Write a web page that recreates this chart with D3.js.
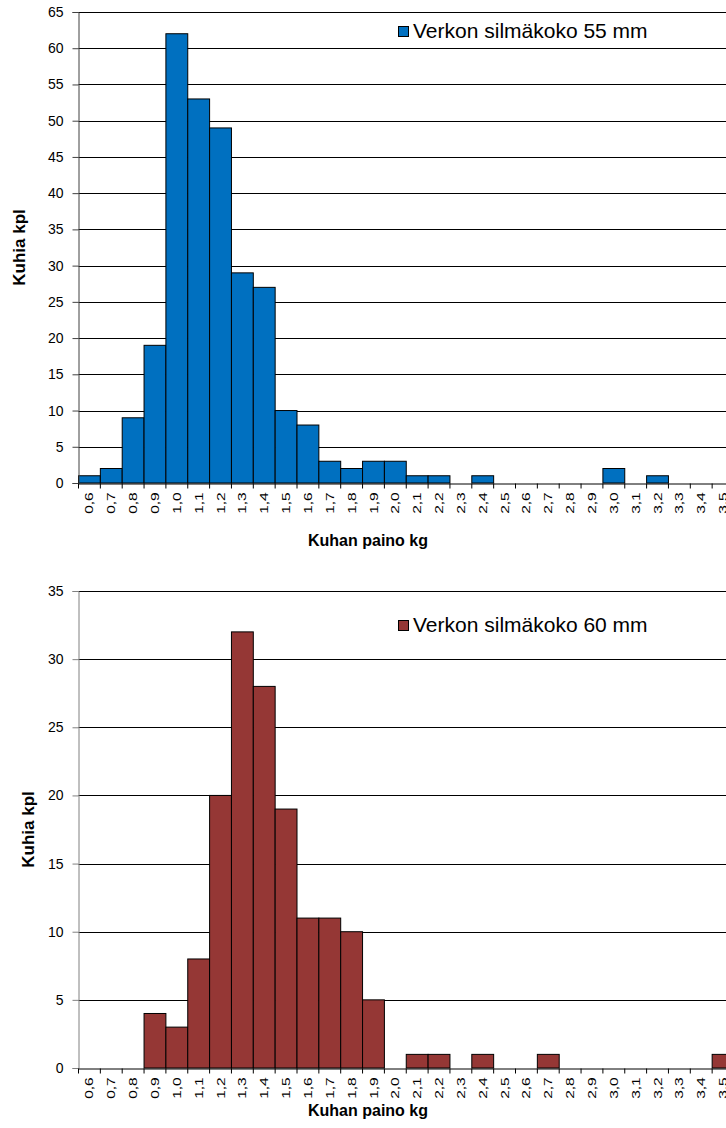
<!DOCTYPE html>
<html>
<head>
<meta charset="utf-8">
<script src="https://cdn.jsdelivr.net/npm/d3@7"></script>
<style>
  html, body { margin: 0; padding: 0; background: #fff; overflow: hidden; }
  svg { display: block; font-family: "Liberation Sans", Arial, sans-serif; }
</style>
</head>
<body>
<div id="chart"></div>
<script>
const categories = ["0,6", "0,7", "0,8", "0,9", "1,0", "1,1", "1,2", "1,3", "1,4", "1,5",
                    "1,6", "1,7", "1,8", "1,9", "2,0", "2,1", "2,2", "2,3", "2,4", "2,5",
                    "2,6", "2,7", "2,8", "2,9", "3,0", "3,1", "3,2", "3,3", "3,4", "3,5"];

const counts55 = [1, 2, 9, 19, 62, 53, 49, 29, 27, 10,
                  8, 3, 2, 3, 3, 1, 1, 0, 1, 0,
                  0, 0, 0, 0, 2, 0, 1, 0, 0, 0];

const counts60 = [0, 0, 0, 4, 3, 8, 20, 32, 28, 19,
                  11, 11, 10, 5, 0, 1, 1, 0, 1, 0,
                  0, 1, 0, 0, 0, 0, 0, 0, 0, 1];

const yTicks55 = d3.range(0, 66, 5);
const yTicks60 = d3.range(0, 36, 5);

const legend55 = "Verkon silmäkoko 55 mm";
const legend60 = "Verkon silmäkoko 60 mm";
const xTitle = "Kuhan paino kg";
const yTitle = "Kuhia kpl";

const width = 740;
const height = 1128;

const svg = d3.select("#chart").append("svg")
    .attr("width", width)
    .attr("height", height);

const x = d3.scaleBand()
    .domain(categories)
    .range([78.5, 734])
    .padding(0);

// One histogram panel; top/bottom are the pixel rows of the max and zero gridlines.
function drawPanel(cfg) {
  const y = d3.scaleLinear()
      .domain([0, d3.max(cfg.ticks)])
      .range([cfg.bottom, cfg.top]);

  const g = svg.append("g");

  // horizontal gridlines
  g.selectAll("line.grid")
    .data(cfg.ticks.filter(t => t > 0)).enter()
      .append("line")
        .attr("class", "grid")
        .attr("x1", x.range()[0])
        .attr("x2", x.range()[1])
        .attr("y1", d => Math.round(y(d)) + 0.5)
        .attr("y2", d => Math.round(y(d)) + 0.5)
        .attr("stroke", cfg.gridColour)
        .attr("stroke-width", 1);

  g.selectAll("rect.bar")
    .data(categories.map((c, i) => ({ cat: c, value: cfg.values[i] })).filter(d => d.value > 0)).enter()
      .append("rect")
        .attr("class", "bar")
        .attr("x", d => x(d.cat))
        .attr("y", d => y(d.value))
        .attr("width", x.bandwidth())
        .attr("height", d => y(0) - y(d.value))
        .attr("fill", cfg.colour)
        .attr("stroke", "#000")
        .attr("stroke-width", 1);

  // y axis
  const yAxis = g.append("g")
      .attr("transform", "translate(" + x.range()[0] + ",0)")
      .call(d3.axisLeft(y).tickValues(cfg.ticks).tickSize(6).tickPadding(9).tickFormat(d3.format("d")));
  yAxis.select(".domain").attr("stroke", cfg.axisColour);
  yAxis.selectAll(".tick line").attr("stroke", cfg.axisColour);
  yAxis.selectAll("text")
      .attr("fill", "#000")
      .style("font-size", "14px");

  // x axis: labels under bar centres (stretched along the text like the original), tick marks on boundaries
  const base = Math.round(y(0)) + 0.5;
  const xAxis = g.append("g")
      .attr("transform", "translate(0," + base + ")")
      .call(d3.axisBottom(x).tickSize(0).tickPadding(0));
  xAxis.select(".domain").attr("stroke", "#000");
  xAxis.selectAll("text")
      .attr("transform", "rotate(-90) scale(1.35,1)")
      .attr("text-anchor", "end")
      .attr("x", -6.5)
      .attr("y", 0)
      .attr("dy", "0.35em")
      .attr("fill", "#000")
      .style("font-size", "11.5px");

  const bounds = categories.map(c => x(c)).concat([x.range()[1]]);
  g.selectAll("line.xtick")
    .data(bounds).enter()
      .append("line")
        .attr("class", "xtick")
        .attr("x1", d => d)
        .attr("x2", d => d)
        .attr("y1", base)
        .attr("y2", base + 5)
        .attr("stroke", "#000");

  // axis titles
  g.append("text")
      .attr("transform", "translate(" + cfg.yTitleX + "," + ((cfg.top + cfg.bottom) / 2) + ") rotate(-90)")
      .attr("text-anchor", "middle")
      .attr("dy", "0.35em")
      .style("font-size", "17px")
      .style("font-weight", "bold")
      .text(yTitle);

  g.append("text")
      .attr("x", 368)
      .attr("y", cfg.xTitleY)
      .attr("text-anchor", "middle")
      .style("font-size", "16px")
      .style("font-weight", "bold")
      .text(xTitle);

  // legend
  g.append("rect")
      .attr("x", 398.5)
      .attr("y", cfg.legendY - 11.5)
      .attr("width", 10)
      .attr("height", 10)
      .attr("fill", cfg.colour)
      .attr("stroke", "#000");

  g.append("text")
      .attr("x", 413)
      .attr("y", cfg.legendY)
      .style("font-size", "21px")
      .text(cfg.legend);
}

drawPanel({
  values: counts55, ticks: yTicks55, top: 12, bottom: 483,
  colour: "#0070C0", gridColour: "#000", axisColour: "#404040",
  legend: legend55, legendY: 38, xTitleY: 546, yTitleX: 19
});

drawPanel({
  values: counts60, ticks: yTicks60, top: 591, bottom: 1068,
  colour: "#953735", gridColour: "#000", axisColour: "#808080",
  legend: legend60, legendY: 632, xTitleY: 1116, yTitleX: 28
});
</script>
</body>
</html>
